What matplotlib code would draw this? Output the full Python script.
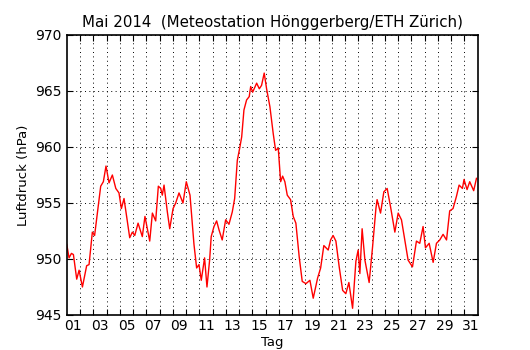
import numpy as np
import matplotlib
matplotlib.use("Agg")
import matplotlib.pyplot as plt

# Luftdruck Mai 2014 (Tag als Bruchteil, 1.0 = 1. Mai 00:00)
tag = [1.0, 1.17, 1.35, 1.5, 1.75, 1.93, 2.18, 2.5, 2.68, 2.93, 3.1, 3.44, 3.56,
       3.76, 3.96, 4.19, 4.44, 4.7, 4.94, 5.12, 5.32, 5.52, 5.75, 5.95, 6.13,
       6.38, 6.7, 6.9, 7.26, 7.46, 7.71, 7.91, 8.09, 8.21, 8.34, 8.59, 8.77,
       9.02, 9.22, 9.47, 9.77, 10.02, 10.3, 10.6, 10.8, 10.98, 11.15, 11.4,
       11.58, 11.78, 11.9, 12.11, 12.31, 12.49, 12.73, 12.99, 13.24, 13.49,
       13.67, 13.87, 14.05, 14.2, 14.37, 14.57, 14.77, 14.88, 15.03, 15.33,
       15.53, 15.7, 15.9, 16.08, 16.33, 16.58, 16.76, 16.96, 17.14, 17.29,
       17.46, 17.64, 17.89, 18.09, 18.29, 18.54, 18.77, 19.05, 19.35, 19.6,
       19.93, 20.16, 20.4, 20.73, 20.91, 21.1, 21.31, 21.56, 21.82, 22.06,
       22.29, 22.57, 22.82, 22.99, 23.12, 23.29, 23.5, 23.82, 24.08, 24.33,
       24.42, 24.68, 24.93, 25.18, 25.43, 25.76, 26.01, 26.26, 26.51, 26.76,
       27.09, 27.39, 27.64, 27.89, 28.07, 28.35, 28.65, 28.9, 29.15, 29.4,
       29.66, 29.9, 30.15, 30.41, 30.61, 30.86, 30.98, 31.21, 31.41, 31.71,
       31.92]
druck = [951.3, 950.1, 950.5, 950.4, 948.2, 949.0, 947.5, 949.4, 949.5, 952.4,
         952.1, 955.3, 956.5, 956.9, 958.3, 956.8, 957.5, 956.3, 955.9, 954.5,
         955.4, 953.8, 951.9, 952.4, 952.1, 953.2, 952.0, 953.8, 951.6, 954.1,
         953.4, 956.5, 956.3, 955.7, 956.6, 954.2, 952.7, 954.5, 955.0, 955.9,
         955.0, 956.9, 955.7, 951.3, 949.2, 949.5, 948.1, 950.1, 947.5, 949.9,
         952.0, 952.9, 953.4, 952.6, 951.7, 953.5, 953.1, 954.2, 955.4, 958.8,
         959.9, 960.9, 963.3, 964.2, 964.5, 965.4, 964.9, 965.7, 965.2, 965.5,
         966.6, 965.2, 963.6, 961.2, 959.7, 959.9, 956.9, 957.4, 956.9, 955.7,
         955.3, 953.8, 953.2, 950.2, 948.0, 947.8, 948.1, 946.5, 948.3, 949.2,
         951.2, 950.8, 951.7, 952.1, 951.6, 949.3, 947.2, 946.9, 947.9, 945.6,
         949.8, 950.8, 948.7, 952.7, 949.9, 947.9, 951.1, 954.5, 955.3, 954.1,
         956.0, 956.3, 954.7, 952.4, 954.1, 953.5, 951.7, 949.9, 949.3, 951.6,
         951.4, 952.9, 951.0, 951.4, 949.7, 951.4, 951.7, 952.2, 951.7, 954.3,
         954.5, 955.6, 956.6, 956.3, 957.1, 956.2, 956.9, 956.1, 957.2]

tage = list(range(2, 32))
label_tage = list(range(1, 32, 2))

fig = plt.figure(figsize=(5.3, 3.5), dpi=100)
ax = fig.add_axes([0.126, 0.1, 0.775, 0.8])

ax.plot(tag, druck, color="red", lw=1.0)

ax.set_xlim(1, 32)
ax.set_ylim(945, 970)
ax.set_yticks(np.arange(945, 971, 5))
ax.set_xticks(tage)
ax.set_xticklabels([])
ax.set_xticks([d + 0.5 for d in label_tage], minor=True)
ax.set_xticklabels(["%02d" % d for d in label_tage], minor=True)

ax.tick_params(which="major", direction="in", length=4, top=True, right=True,
               labelsize=10)
ax.tick_params(axis="x", which="minor", length=0, labelsize=10, pad=3)
ax.grid(True, which="major", color="k", linestyle=(0, (1, 3.5)), linewidth=0.7)
for s in ax.spines.values():
    s.set_linewidth(1.2)

ax.set_title("Mai 2014  (Meteostation Hönggerberg/ETH Zürich)", fontsize=10.8)
ax.set_xlabel("Tag", fontsize=9.5, labelpad=2)
ax.set_ylabel("Luftdruck (hPa)", fontsize=9.5)

fig.savefig("out.png", dpi=100)
